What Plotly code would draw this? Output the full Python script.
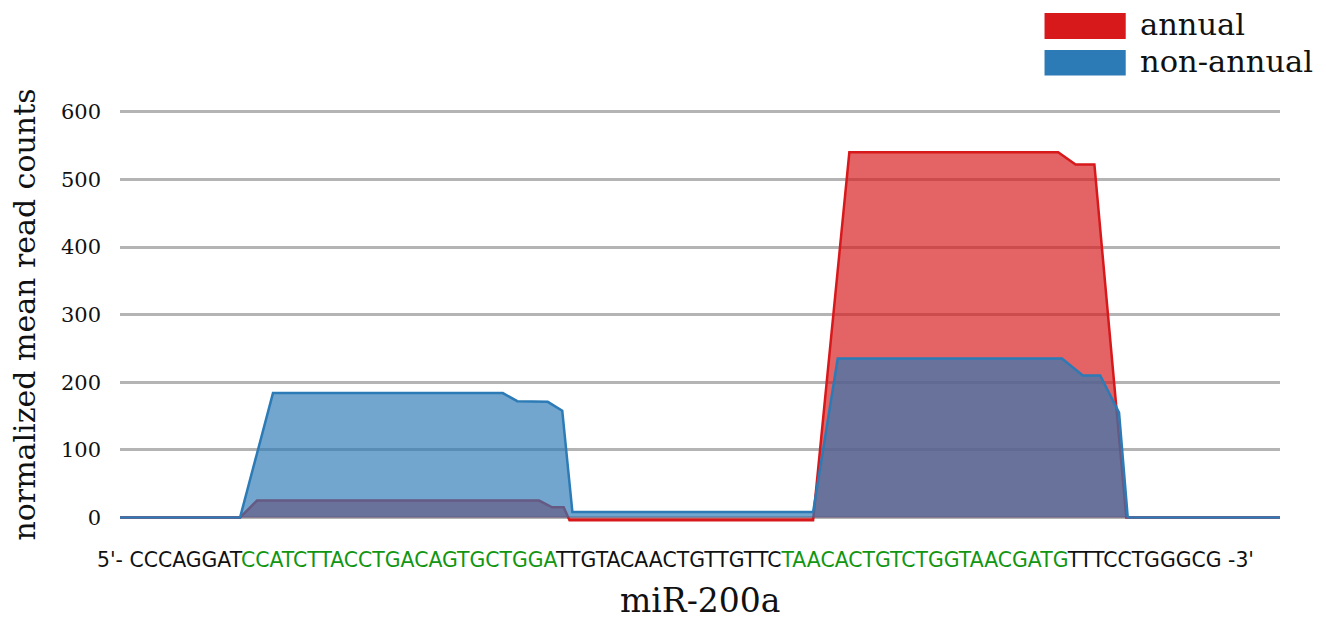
import plotly.graph_objects as go

# Positions along the precursor (nucleotide units) and normalized mean read counts
annual_pos = [0, 8.28, 9.45, 28.9, 29.8, 30.6, 31.0, 47.8, 50.3, 64.7, 65.9, 67.2, 69.4, 80]
annual_val = [0, 0, 25, 25, 15, 15, -4, -4, 540, 540, 522, 522, 0, 0]

nonannual_pos = [0, 8.28, 10.55, 26.4, 27.4, 29.5, 30.5, 31.2, 47.8, 49.5, 64.96, 66.4, 67.6, 68.9, 69.5, 80]
nonannual_val = [0, 0, 184, 184, 172, 171, 158, 8, 8, 235, 235, 210, 210, 155, 0, 0]

y_ticks = [0, 100, 200, 300, 400, 500, 600]
series_names = ["annual", "non-annual"]

seq_parts = [
    ("5'- CCCAGGAT", False),
    ("CCATCTTACCTGACAGTGCTGGA", True),
    ("TTGTACAACTGTTGTTC", False),
    ("TAACACTGTCTGGTAACGATG", True),
    ("TTTCCTGGGCG -3'", False),
]

RED = "#d7191c"
BLUE = "#2c7bb6"
GREEN = "#129612"
SERIF = "DejaVu Serif"

fig = go.Figure()
fig.add_trace(go.Scatter(
    x=annual_pos, y=annual_val, name=series_names[0], mode="lines",
    line=dict(color=RED, width=2.5), fill="tozeroy",
    fillcolor="rgba(215,25,28,0.68)", showlegend=False))
fig.add_trace(go.Scatter(
    x=nonannual_pos, y=nonannual_val, name=series_names[1], mode="lines",
    line=dict(color=BLUE, width=2.5), fill="tozeroy",
    fillcolor="rgba(44,123,182,0.67)", showlegend=False))

seq_html = "".join(
    f"<span style='color:{GREEN}'>{t}</span>" if g else t for t, g in seq_parts)

annotations = [
    dict(text=seq_html, xref="paper", yref="paper", x=-0.0216, y=-0.067,
         xanchor="left", yanchor="middle", showarrow=False,
         font=dict(family="DejaVu Sans", size=20.4, color="#111111")),
    dict(text="miR-200a", xref="paper", yref="paper", x=0.5, y=-0.163,
         xanchor="center", yanchor="middle", showarrow=False,
         font=dict(family=SERIF, size=33, color="#111111")),
    dict(text="normalized mean read counts", xref="paper", yref="paper",
         x=-0.0819, y=0.508, xanchor="center", yanchor="middle", textangle=-90,
         showarrow=False, font=dict(family=SERIF, size=30, color="#111111")),
    dict(text=series_names[0], xref="paper", yref="paper", x=0.878, y=1.188,
         xanchor="left", yanchor="middle", showarrow=False,
         font=dict(family=SERIF, size=30.5, color="#111111")),
    dict(text=series_names[1], xref="paper", yref="paper", x=0.878, y=1.101,
         xanchor="left", yanchor="middle", showarrow=False,
         font=dict(family=SERIF, size=30.5, color="#111111")),
]

shapes = [
    dict(type="rect", xref="paper", yref="paper", x0=0.797, x1=0.867,
         y0=1.155, y1=1.216, fillcolor=RED, line=dict(width=0)),
    dict(type="rect", xref="paper", yref="paper", x0=0.797, x1=0.867,
         y0=1.069, y1=1.129, fillcolor=BLUE, line=dict(width=0)),
]

fig.update_layout(
    width=1318, height=612,
    margin=dict(l=112, r=46, t=97, b=88.5),
    paper_bgcolor="white", plot_bgcolor="white",
    annotations=annotations, shapes=shapes,
    xaxis=dict(range=[0, 80], showgrid=False, showticklabels=False,
               zeroline=False, showline=False, ticks=""),
    yaxis=dict(range=[-20, 610], tickvals=y_ticks, showgrid=True,
               gridcolor="#b4b4b4", gridwidth=3, zeroline=False,
               showline=False, ticks="", ticklabelstandoff=18,
               tickfont=dict(family=SERIF, size=21, color="#111111")),
)

fig.write_html("out.html")
